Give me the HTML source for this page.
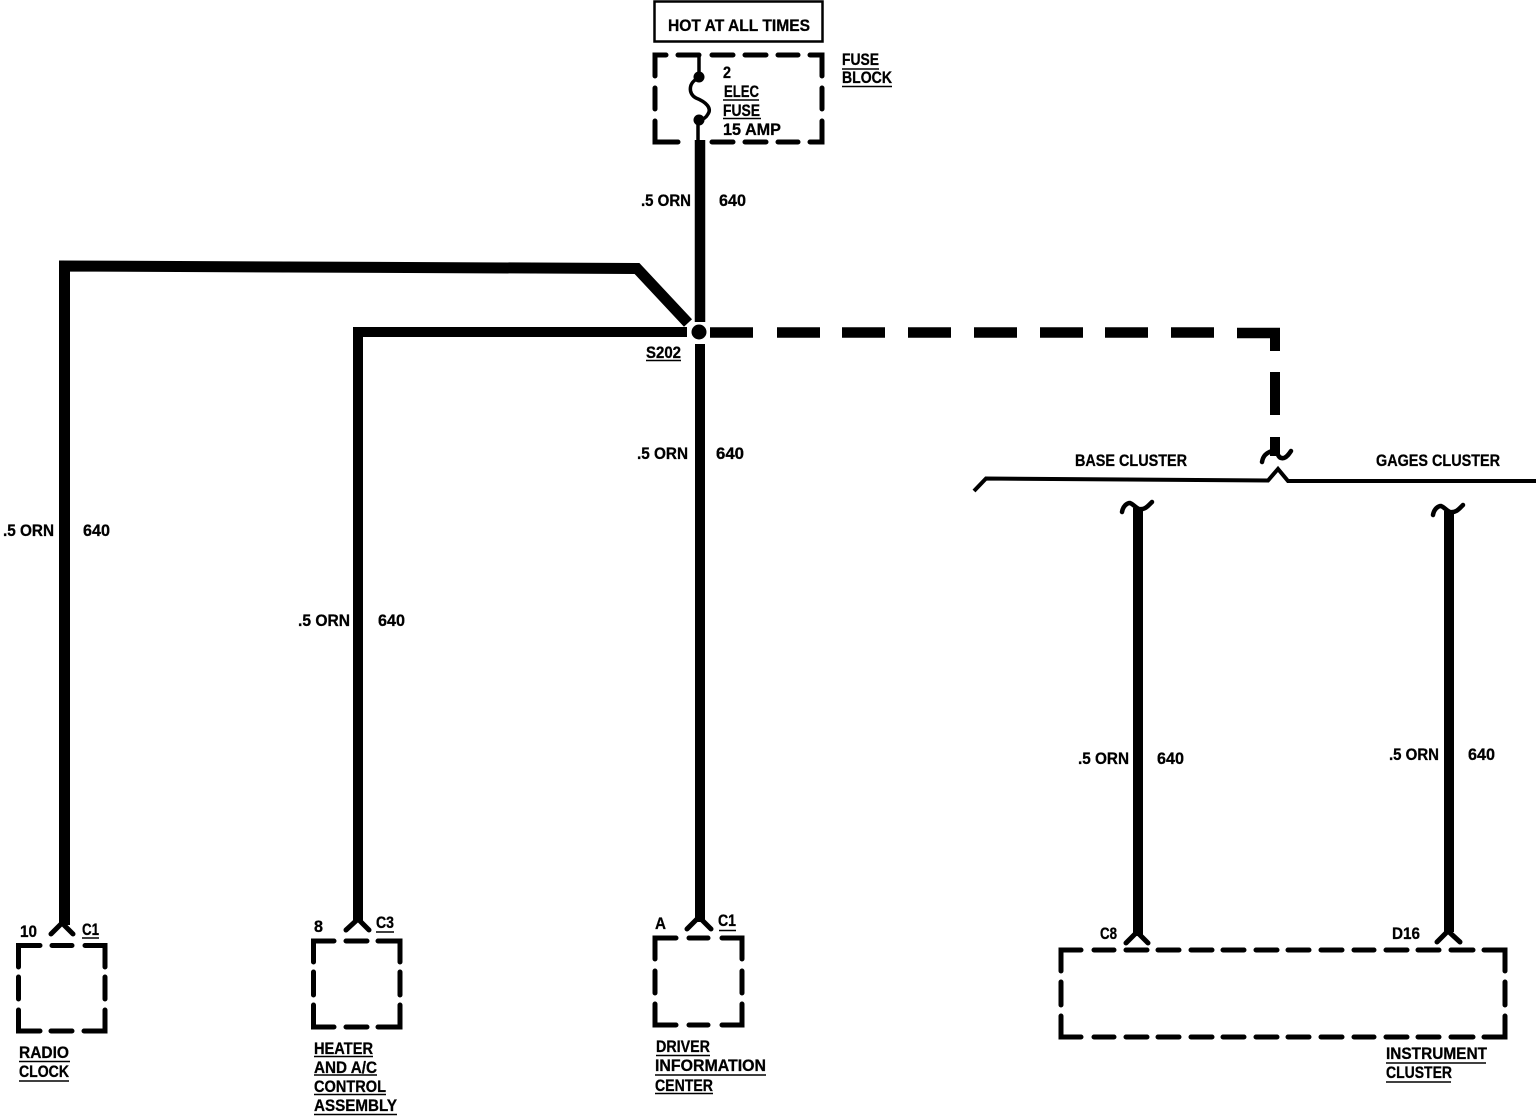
<!DOCTYPE html>
<html><head><meta charset="utf-8"><style>
html,body{margin:0;padding:0;background:#fff}
svg{display:block}
text{font-family:"Liberation Sans",sans-serif;font-weight:bold;font-size:17px;fill:#000;stroke:#000;stroke-width:.3}
.u{stroke:#000;stroke-width:1.6;fill:none}
.b{stroke:#000;stroke-width:5;fill:none;stroke-linecap:round;stroke-linejoin:miter}
.w{stroke:#000;fill:none;stroke-linejoin:miter}
.y{stroke:#000;stroke-width:5;fill:none;stroke-linecap:round;stroke-linejoin:miter}
</style></head><body>
<svg width="1536" height="1116" viewBox="0 0 1536 1116" xmlns="http://www.w3.org/2000/svg">
<rect width="1536" height="1116" fill="#fff"/>
<!-- top box -->
<rect x="654.5" y="1.5" width="168" height="40" fill="none" stroke="#000" stroke-width="2.5"/>
<text x="668" y="31" textLength="142" lengthAdjust="spacingAndGlyphs">HOT AT ALL TIMES</text>
<!-- fuse block -->
<path class="b" d="M655 76V55H666M678 55H699M712 55H733M745 55H766M778 55H798M810 55H822V76M822 88V109M822 121V142H810M798 142H778M766 142H745M733 142H712M678 142H666M666 142H655V121M655 109V88"/>
<path d="M699 55V77" stroke="#000" stroke-width="3.5" fill="none"/>
<path d="M699 78C688 82 688 94 696 98C706 102 712 108 708 114C706 118 702 120 698 121" stroke="#000" stroke-width="3.5" fill="none"/>
<circle cx="699" cy="77" r="5.5"/><circle cx="699" cy="120" r="5.5"/>
<path d="M698 120V142" stroke="#000" stroke-width="3.5" fill="none"/>
<text x="723" y="78" textLength="8" lengthAdjust="spacingAndGlyphs">2</text>
<text x="724" y="97" textLength="35" lengthAdjust="spacingAndGlyphs">ELEC</text>
<path class="u" d="M723 100H759"/>
<text x="723" y="116" textLength="37" lengthAdjust="spacingAndGlyphs">FUSE</text>
<path class="u" d="M723 118.500H761"/>
<text x="723" y="135" textLength="58" lengthAdjust="spacingAndGlyphs">15 AMP</text>
<text x="842" y="65" textLength="37" lengthAdjust="spacingAndGlyphs">FUSE</text>
<path class="u" d="M842 69H879"/>
<text x="842" y="83" textLength="50" lengthAdjust="spacingAndGlyphs">BLOCK</text>
<path class="u" d="M842 86.500H892"/>
<!-- main wires -->
<path class="w" stroke-width="10.500" d="M700 140V322"/>
<path class="w" stroke-width="10" d="M700 344V922"/>
<circle cx="699" cy="332" r="7.500"/>
<path class="w" stroke-width="11" d="M64.500 925V266L637 268.500L688 323"/>
<path class="w" stroke-width="10" d="M358 922V332H687"/>
<path class="w" stroke-width="10.500" d="M710 332.500H753M777 332.500H820M842 332.500H885M908 332.500H951M974 332.500H1017M1040 332.500H1083M1105 332.500H1148M1171 332.500H1214M1237 333H1280"/>
<path class="w" stroke-width="10" d="M1275 328V351M1275 372V415M1275 437V456"/>
<path d="M1262 462C1263 456 1266 453 1272 451M1277 452C1278 456 1280 459 1284 458C1287 457 1289 454 1291 451" stroke="#000" stroke-width="4.500" fill="none" stroke-linecap="round"/>
<text x="646" y="358" textLength="35" lengthAdjust="spacingAndGlyphs">S202</text>
<path class="u" d="M646 360.500H681"/>
<!-- wire labels -->
<text x="641" y="206" textLength="50" lengthAdjust="spacingAndGlyphs">.5 ORN</text><text x="719" y="206" textLength="27" lengthAdjust="spacingAndGlyphs">640</text>
<text x="637" y="459" textLength="51" lengthAdjust="spacingAndGlyphs">.5 ORN</text><text x="716" y="459" textLength="28" lengthAdjust="spacingAndGlyphs">640</text>
<text x="3" y="536" textLength="51" lengthAdjust="spacingAndGlyphs">.5 ORN</text><text x="83" y="536" textLength="27" lengthAdjust="spacingAndGlyphs">640</text>
<text x="298" y="626" textLength="52" lengthAdjust="spacingAndGlyphs">.5 ORN</text><text x="378" y="626" textLength="27" lengthAdjust="spacingAndGlyphs">640</text>
<text x="1078" y="764" textLength="51" lengthAdjust="spacingAndGlyphs">.5 ORN</text><text x="1157" y="764" textLength="27" lengthAdjust="spacingAndGlyphs">640</text>
<text x="1389" y="760" textLength="50" lengthAdjust="spacingAndGlyphs">.5 ORN</text><text x="1468" y="760" textLength="27" lengthAdjust="spacingAndGlyphs">640</text>
<!-- splitter -->
<path d="M974 491L986 478.500L1268 480.500L1278 469L1288 481H1536" stroke="#000" stroke-width="4" fill="none"/>
<text x="1075" y="466" textLength="112" lengthAdjust="spacingAndGlyphs">BASE CLUSTER</text>
<text x="1376" y="466" textLength="124" lengthAdjust="spacingAndGlyphs">GAGES CLUSTER</text>
<!-- right wires -->
<path class="w" stroke-width="10" d="M1138 508V936"/>
<path class="w" stroke-width="10" d="M1449 511V932"/>
<path d="M1122 512C1123 506 1127 503 1130 503C1133 504 1136 508 1139 509C1145 510 1148 506 1152 502" stroke="#000" stroke-width="4.500" fill="none" stroke-linecap="round"/>
<path d="M1433 515C1434 509 1438 506 1441 506C1444 507 1447 511 1450 512C1456 513 1459 509 1463 505" stroke="#000" stroke-width="4.500" fill="none" stroke-linecap="round"/>
<!-- connector Ys -->
<path class="y" d="M51 934L62 923L73 934"/>
<path class="y" d="M346 930L358 919L369 930"/>
<path class="y" d="M687 929L699 917L711 929"/>
<path class="y" d="M1126 943L1137 932L1148 943"/>
<path class="y" d="M1437 942L1448 931L1460 942"/>
<!-- radio -->
<path class="b" d="M18.500 967V945.500H40M52 945.500H72M85 945.500H105V967M105 977V999M105 1010V1031H84M72 1031H51M40 1031H18.500V1010M18.500 999V977"/>
<text x="20" y="937" textLength="17" lengthAdjust="spacingAndGlyphs">10</text>
<text x="82" y="935" textLength="17" lengthAdjust="spacingAndGlyphs">C1</text><path class="u" d="M82 938H99"/>
<text x="19" y="1058" textLength="50" lengthAdjust="spacingAndGlyphs">RADIO</text><path class="u" d="M19 1061.500H70"/>
<text x="19" y="1077" textLength="50" lengthAdjust="spacingAndGlyphs">CLOCK</text><path class="u" d="M19 1081H69"/>
<!-- heater -->
<path class="b" d="M313.500 962V941H334M346 941H367M378 941H400V962M400 972V995M400 1005V1027H378M367 1027H346M334 1027H313.500V1005M313.500 995V972"/>
<text x="314" y="932" textLength="9" lengthAdjust="spacingAndGlyphs">8</text>
<text x="376" y="928" textLength="18" lengthAdjust="spacingAndGlyphs">C3</text><path class="u" d="M376 932H394"/>
<text x="314" y="1054" textLength="59" lengthAdjust="spacingAndGlyphs">HEATER</text><path class="u" d="M314 1056.500H373"/>
<text x="314" y="1073" textLength="63" lengthAdjust="spacingAndGlyphs">AND A/C</text><path class="u" d="M314 1075H377"/>
<text x="314" y="1092" textLength="72" lengthAdjust="spacingAndGlyphs">CONTROL</text><path class="u" d="M314 1094.500H386"/>
<text x="314" y="1111" textLength="83" lengthAdjust="spacingAndGlyphs">ASSEMBLY</text><path class="u" d="M314 1114.500H397"/>
<!-- driver -->
<path class="b" d="M655 959V938H676M689 938H708M722 938H742V959M742 971V993M742 1004V1025H722M708 1025H689M676 1025H655V1004M655 993V971"/>
<text x="655" y="929" textLength="11" lengthAdjust="spacingAndGlyphs">A</text>
<text x="718" y="926" textLength="18" lengthAdjust="spacingAndGlyphs">C1</text><path class="u" d="M719 930.500H736"/>
<text x="656" y="1052" textLength="54" lengthAdjust="spacingAndGlyphs">DRIVER</text><path class="u" d="M656 1055.500H710"/>
<text x="655" y="1071" textLength="111" lengthAdjust="spacingAndGlyphs">INFORMATION</text><path class="u" d="M655 1075H766"/>
<text x="655" y="1091" textLength="58" lengthAdjust="spacingAndGlyphs">CENTER</text><path class="u" d="M655 1093.500H713"/>
<!-- instrument cluster -->
<path class="b" d="M1061 971V950H1081M1094 950H1114M1126 950H1147M1158 950H1179M1191 950H1212M1223 950H1244M1256 950H1277M1288 950H1309M1321 950H1342M1354 950H1374M1386 950H1407M1418 950H1439M1451 950H1473M1484 950H1505V971M1505 982V1005M1505 1016V1037H1484M1473 1037H1451M1439 1037H1418M1407 1037H1386M1374 1037H1354M1342 1037H1321M1309 1037H1288M1277 1037H1256M1244 1037H1223M1212 1037H1191M1179 1037H1158M1147 1037H1126M1114 1037H1094M1081 1037H1061V1016M1061 1005V982"/>
<text x="1100" y="939" textLength="17" lengthAdjust="spacingAndGlyphs">C8</text>
<text x="1392" y="939" textLength="28" lengthAdjust="spacingAndGlyphs">D16</text>
<text x="1386" y="1059" textLength="101" lengthAdjust="spacingAndGlyphs">INSTRUMENT</text><path class="u" d="M1386 1063H1486"/>
<text x="1386" y="1078" textLength="66" lengthAdjust="spacingAndGlyphs">CLUSTER</text><path class="u" d="M1386 1082H1451"/>
</svg>
</body></html>
